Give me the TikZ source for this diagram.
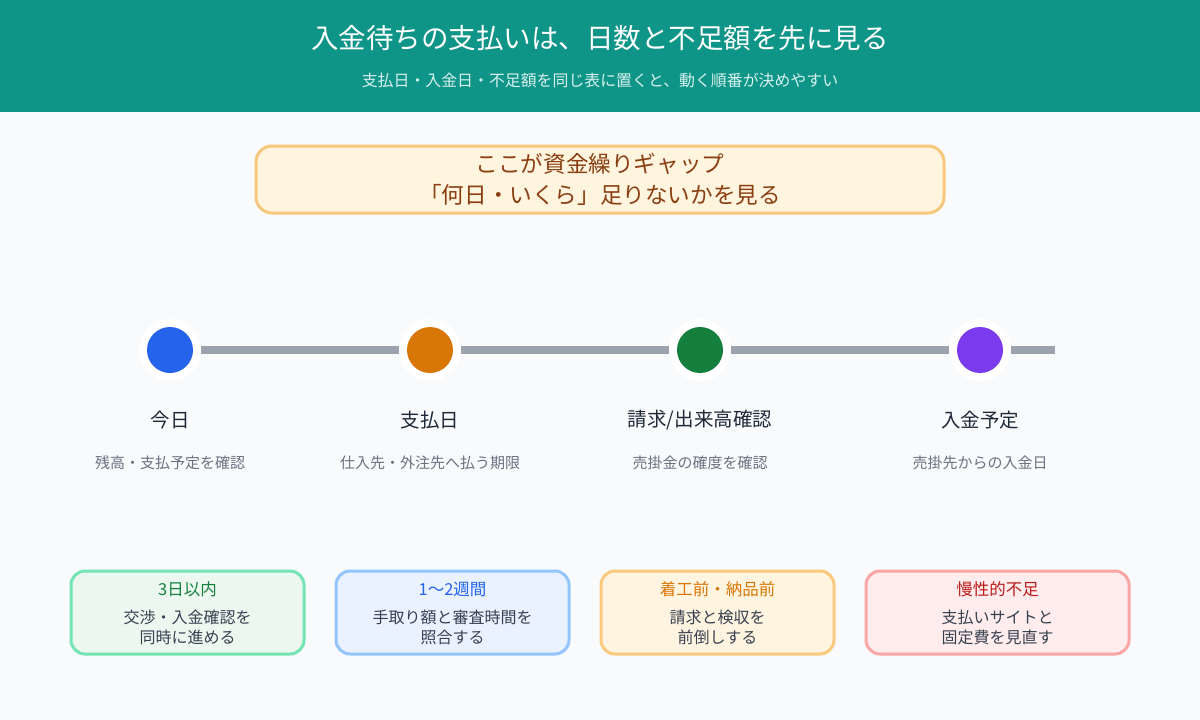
\documentclass[tikz,border=0pt]{standalone}
\usepackage{fontspec}
\setmainfont{Noto Sans CJK JP}
\definecolor{bg}{HTML}{F8FAFC}
\definecolor{teal}{HTML}{0F9488}
\definecolor{subw}{HTML}{D8F1EE}
\definecolor{calfill}{HTML}{FFF5DE}
\definecolor{caldraw}{HTML}{F8C77E}
\definecolor{caltext}{HTML}{8A3E12}
\definecolor{linegray}{HTML}{9CA3AF}
\definecolor{cblue}{HTML}{2563EB}
\definecolor{corange}{HTML}{D97706}
\definecolor{cgreen}{HTML}{15803D}
\definecolor{cpurple}{HTML}{7C3AED}
\definecolor{darktext}{HTML}{1F2937}
\definecolor{bodytext}{HTML}{374151}
\definecolor{graytext}{HTML}{6B7280}
\definecolor{gfill}{HTML}{ECF8EF}\definecolor{gdraw}{HTML}{74E4B4}
\definecolor{bfill}{HTML}{EAF2FF}\definecolor{bdraw}{HTML}{93C5FD}
\definecolor{ofill}{HTML}{FFF4E0}\definecolor{odraw}{HTML}{FAC97D}
\definecolor{rfill}{HTML}{FFECEC}\definecolor{rdraw}{HTML}{FCA5A5}
\definecolor{rtext}{HTML}{B91C1C}
\tikzset{
  ring/.style={circle, fill=white, minimum size=62pt, inner sep=0pt},
  tline/.style={draw=linegray, line width=8pt},
  steptitle/.style={font=\fontsize{19.5}{22}\selectfont, text=darktext},
  stepsub/.style={font=\fontsize{15}{18}\selectfont, text=graytext},
  card/.style={rounded corners=14pt, line width=3pt, minimum width=233pt, minimum height=83pt, inner sep=0pt},
  cardtitle/.style={font=\fontsize{16.5}{20}\selectfont},
  cardbody/.style={font=\fontsize{16}{20}\selectfont, text=bodytext, align=center}
}
\begin{document}
\begin{tikzpicture}[x=1pt,y=-1pt]
\useasboundingbox (0,0) rectangle (1200,720);
\fill[bg] (0,0) rectangle (1200,720);
\fill[teal] (0,0) rectangle (1200,112);
\node[text=white, font=\fontsize{27.5}{30}\selectfont] (title) at (600,38) {入金待ちの支払いは、日数と不足額を先に見る};
\node[text=subw, font=\fontsize{15.9}{18}\selectfont] (subtitle) at (600,80) {支払日・入金日・不足額を同じ表に置くと、動く順番が決めやすい};
% callout
\node[draw=caldraw, fill=calfill, line width=3pt, rounded corners=16pt, minimum width=688pt, minimum height=67pt, text=caltext, align=center, font=\fontsize{22.6}{31}\selectfont] (callout) at (600,179.5) {ここが資金繰りギャップ\\「何日・いくら」足りないかを見る};
% timeline
\node[ring] (c1) at (170,350) {};
\node[ring] (c2) at (430,350) {};
\node[ring] (c3) at (700,350) {};
\node[ring] (c4) at (980,350) {};
\coordinate (tend) at (1055,350);
\draw[tline] (c1) -- (c2);
\draw[tline] (c2) -- (c3);
\draw[tline] (c3) -- (c4);
\draw[tline] (c4) -- (tend);
\fill[cblue] (c1) circle (23pt);
\fill[corange] (c2) circle (23pt);
\fill[cgreen] (c3) circle (23pt);
\fill[cpurple] (c4) circle (23pt);
% labels
\node[steptitle] (t1) at (170,420) {今日};
\node[steptitle] (t2) at (430,420) {支払日};
\node[steptitle] (t3) at (700,420) {請求/出来高確認};
\node[steptitle] (t4) at (980,420) {入金予定};
\node[stepsub] (s1) at (170,463) {残高・支払予定を確認};
\node[stepsub] (s2) at (430,463) {仕入先・外注先へ払う期限};
\node[stepsub] (s3) at (700,463) {売掛金の確度を確認};
\node[stepsub] (s4) at (980,463) {売掛先からの入金日};
% cards
\node[card, draw=gdraw, fill=gfill] (k1) at (187.5,612.5) {};
\node[card, draw=bdraw, fill=bfill] (k2) at (452.5,612.5) {};
\node[card, draw=odraw, fill=ofill] (k3) at (717.5,612.5) {};
\node[card, draw=rdraw, fill=rfill, minimum width=263pt] (k4) at (997.5,612.5) {};
\node[cardtitle, text=cgreen] (k1t) at (187.5,589) {3日以内};
\node[cardtitle, text=cblue] (k2t) at (452.5,589) {1〜2週間};
\node[cardtitle, text=corange] (k3t) at (717.5,589) {着工前・納品前};
\node[cardtitle, text=rtext] (k4t) at (997.5,589) {慢性的不足};
\node[cardbody] (k1b) at (187.5,627) {交渉・入金確認を\\同時に進める};
\node[cardbody] (k2b) at (452.5,627) {手取り額と審査時間を\\照合する};
\node[cardbody] (k3b) at (717.5,627) {請求と検収を\\前倒しする};
\node[cardbody] (k4b) at (997.5,627) {支払いサイトと\\固定費を見直す};
\end{tikzpicture}
\end{document}
